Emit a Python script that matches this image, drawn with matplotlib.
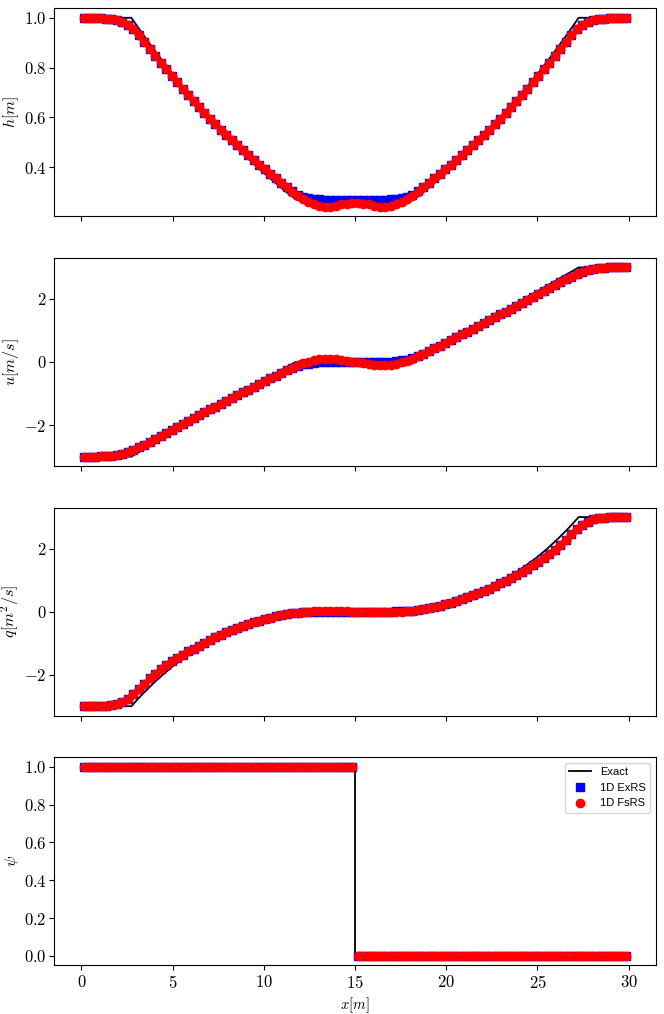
import numpy as np
import matplotlib
matplotlib.use("Agg")
import matplotlib.pyplot as plt

plt.rcParams['font.family'] = 'serif'
plt.rcParams['font.serif'] = ['cmr10', 'DejaVu Serif']
plt.rcParams['mathtext.fontset'] = 'cm'
plt.rcParams['axes.formatter.use_mathtext'] = True
plt.rcParams['axes.unicode_minus'] = True
plt.rcParams['xtick.labelsize'] = 12
plt.rcParams['ytick.labelsize'] = 12
plt.rcParams['ytick.major.pad'] = 2
plt.rcParams['xtick.major.pad'] = 3
plt.rcParams['axes.labelsize'] = 11.5

# cell centres, dx = 0.3 m
x = np.linspace(0.15, 29.85, 100)

# exact solution (two rarefactions)
x_ex = [0.0, 2.74, 3.3, 3.9, 4.5, 5.1, 6.3, 7.5, 8.7, 9.9, 11.1, 11.74,
        18.26, 18.9, 20.1, 21.3, 22.5, 23.7, 24.9, 25.5, 26.1, 26.7, 27.26, 30.0]
h_ex = [1.0, 1.0, 0.941, 0.880, 0.821, 0.764, 0.657, 0.557, 0.466, 0.383, 0.308, 0.2715,
        0.2715, 0.308, 0.383, 0.466, 0.557, 0.657, 0.764, 0.821, 0.880, 0.941, 1.0, 1.0]
q_ex = [-3.0, -3.0, -2.646, -2.299, -1.980, -1.690, -1.190, -0.787, -0.472, -0.234, -0.065, 0.0,
        0.0, 0.065, 0.234, 0.472, 0.787, 1.190, 1.690, 1.980, 2.299, 2.646, 3.0, 3.0]
x_ex_u = [0.0, 2.74, 11.74, 18.26, 27.26, 30.0]
u_ex = [-3.0, -3.0, 0.0, 0.0, 3.0, 3.0]
x_ex_psi = [0.0, 15.0, 15.0, 30.0]
psi_ex = [1.0, 1.0, 0.0, 0.0]

# 1D ExRS
h_exrs = [1.000, 1.000, 0.999, 0.998, 0.997, 0.995, 0.990, 0.982, 0.972, 0.956,
          0.932, 0.904, 0.876, 0.848, 0.820, 0.793, 0.766, 0.740, 0.714, 0.689,
          0.665, 0.641, 0.617, 0.594, 0.572, 0.550, 0.529, 0.508, 0.488, 0.468,
          0.448, 0.429, 0.410, 0.391, 0.373, 0.355, 0.338, 0.320, 0.302, 0.289,
          0.281, 0.276, 0.272, 0.270, 0.268, 0.268, 0.268, 0.268, 0.268, 0.268,
          0.268, 0.268, 0.268, 0.268, 0.268, 0.268, 0.270, 0.272, 0.276, 0.281,
          0.289, 0.302, 0.320, 0.338, 0.355, 0.373, 0.391, 0.410, 0.429, 0.448,
          0.468, 0.488, 0.508, 0.529, 0.550, 0.572, 0.594, 0.617, 0.641, 0.665,
          0.689, 0.714, 0.740, 0.766, 0.793, 0.820, 0.848, 0.876, 0.904, 0.932,
          0.956, 0.972, 0.982, 0.990, 0.995, 0.997, 0.998, 0.999, 1.000, 1.000]
u_exrs = [-3.000, -3.000, -3.000, -2.998, -2.992, -2.979, -2.955, -2.915, -2.860, -2.789,
          -2.705, -2.620, -2.535, -2.447, -2.357, -2.265, -2.170, -2.075, -1.980, -1.885,
          -1.790, -1.695, -1.600, -1.507, -1.417, -1.327, -1.237, -1.147, -1.057, -0.967,
          -0.877, -0.787, -0.697, -0.607, -0.517, -0.430, -0.345, -0.262, -0.182, -0.119,
          -0.078, -0.048, -0.028, -0.015, -0.008, -0.003, 0.000, 0.000, 0.000, 0.000,
          0.000, 0.000, 0.000, 0.000, 0.003, 0.008, 0.015, 0.028, 0.048, 0.078,
          0.119, 0.182, 0.262, 0.345, 0.430, 0.517, 0.607, 0.697, 0.787, 0.877,
          0.967, 1.057, 1.147, 1.237, 1.327, 1.417, 1.507, 1.600, 1.695, 1.790,
          1.885, 1.980, 2.075, 2.170, 2.265, 2.357, 2.447, 2.535, 2.620, 2.705,
          2.789, 2.860, 2.915, 2.955, 2.979, 2.992, 2.998, 3.000, 3.000, 3.000]
q_exrs = [-3.000, -3.000, -2.998, -2.993, -2.985, -2.964, -2.926, -2.855, -2.760, -2.620,
          -2.450, -2.280, -2.120, -1.970, -1.830, -1.700, -1.580, -1.470, -1.360, -1.260,
          -1.170, -1.077, -0.987, -0.898, -0.811, -0.731, -0.656, -0.584, -0.517, -0.453,
          -0.394, -0.339, -0.287, -0.238, -0.194, -0.153, -0.117, -0.084, -0.056, -0.035,
          -0.022, -0.014, -0.008, -0.004, -0.002, -0.001, 0.000, 0.000, 0.000, 0.000,
          0.000, 0.000, 0.000, 0.000, 0.001, 0.002, 0.004, 0.008, 0.014, 0.022,
          0.035, 0.056, 0.084, 0.117, 0.153, 0.194, 0.238, 0.287, 0.339, 0.394,
          0.453, 0.517, 0.584, 0.656, 0.731, 0.811, 0.898, 0.987, 1.077, 1.170,
          1.260, 1.360, 1.470, 1.580, 1.700, 1.830, 1.970, 2.120, 2.280, 2.450,
          2.620, 2.760, 2.855, 2.926, 2.964, 2.985, 2.993, 2.998, 3.000, 3.000]
psi_exrs = [1, 1, 1, 1, 1, 1, 1, 1, 1, 1,
            1, 1, 1, 1, 1, 1, 1, 1, 1, 1,
            1, 1, 1, 1, 1, 1, 1, 1, 1, 1,
            1, 1, 1, 1, 1, 1, 1, 1, 1, 1,
            1, 1, 1, 1, 1, 1, 1, 1, 1, 1,
            0, 0, 0, 0, 0, 0, 0, 0, 0, 0,
            0, 0, 0, 0, 0, 0, 0, 0, 0, 0,
            0, 0, 0, 0, 0, 0, 0, 0, 0, 0,
            0, 0, 0, 0, 0, 0, 0, 0, 0, 0,
            0, 0, 0, 0, 0, 0, 0, 0, 0, 0]

# 1D FsRS
h_fsrs = [1.000, 1.000, 0.999, 0.998, 0.997, 0.995, 0.990, 0.982, 0.972, 0.956,
          0.932, 0.904, 0.876, 0.848, 0.820, 0.793, 0.766, 0.740, 0.714, 0.689,
          0.665, 0.641, 0.617, 0.594, 0.572, 0.550, 0.529, 0.508, 0.488, 0.468,
          0.448, 0.429, 0.410, 0.391, 0.373, 0.355, 0.338, 0.320, 0.301, 0.285,
          0.273, 0.261, 0.251, 0.244, 0.240, 0.241, 0.245, 0.250, 0.253, 0.255,
          0.255, 0.253, 0.250, 0.245, 0.241, 0.240, 0.244, 0.251, 0.261, 0.273,
          0.285, 0.301, 0.320, 0.338, 0.355, 0.373, 0.391, 0.410, 0.429, 0.448,
          0.468, 0.488, 0.508, 0.529, 0.550, 0.572, 0.594, 0.617, 0.641, 0.665,
          0.689, 0.714, 0.740, 0.766, 0.793, 0.820, 0.848, 0.876, 0.904, 0.932,
          0.956, 0.972, 0.982, 0.990, 0.995, 0.997, 0.998, 0.999, 1.000, 1.000]
u_fsrs = [-3.000, -3.000, -3.000, -2.998, -2.992, -2.979, -2.955, -2.915, -2.860, -2.789,
          -2.705, -2.620, -2.535, -2.447, -2.357, -2.265, -2.170, -2.075, -1.980, -1.885,
          -1.790, -1.695, -1.600, -1.507, -1.417, -1.327, -1.237, -1.147, -1.057, -0.967,
          -0.877, -0.787, -0.697, -0.607, -0.517, -0.430, -0.345, -0.262, -0.176, -0.095,
          -0.040, 0.005, 0.052, 0.088, 0.102, 0.100, 0.085, 0.062, 0.038, 0.012,
          -0.012, -0.038, -0.062, -0.085, -0.100, -0.102, -0.088, -0.052, -0.005, 0.040,
          0.095, 0.176, 0.262, 0.345, 0.430, 0.517, 0.607, 0.697, 0.787, 0.877,
          0.967, 1.057, 1.147, 1.237, 1.327, 1.417, 1.507, 1.600, 1.695, 1.790,
          1.885, 1.980, 2.075, 2.170, 2.265, 2.357, 2.447, 2.535, 2.620, 2.705,
          2.789, 2.860, 2.915, 2.955, 2.979, 2.992, 2.998, 3.000, 3.000, 3.000]
q_fsrs = [-3.000, -3.000, -2.998, -2.993, -2.985, -2.964, -2.926, -2.855, -2.760, -2.620,
          -2.450, -2.280, -2.120, -1.970, -1.830, -1.700, -1.580, -1.470, -1.360, -1.260,
          -1.170, -1.077, -0.987, -0.898, -0.811, -0.731, -0.656, -0.584, -0.517, -0.453,
          -0.394, -0.339, -0.287, -0.238, -0.194, -0.153, -0.117, -0.084, -0.054, -0.028,
          -0.011, 0.002, 0.014, 0.022, 0.024, 0.024, 0.021, 0.016, 0.010, 0.003,
          -0.003, -0.010, -0.016, -0.021, -0.024, -0.024, -0.022, -0.014, -0.002, 0.011,
          0.028, 0.054, 0.084, 0.117, 0.153, 0.194, 0.238, 0.287, 0.339, 0.394,
          0.453, 0.517, 0.584, 0.656, 0.731, 0.811, 0.898, 0.987, 1.077, 1.170,
          1.260, 1.360, 1.470, 1.580, 1.700, 1.830, 1.970, 2.120, 2.280, 2.450,
          2.620, 2.760, 2.855, 2.926, 2.964, 2.985, 2.993, 2.998, 3.000, 3.000]
psi_fsrs = list(psi_exrs)

labels = ['Exact', '1D ExRS', '1D FsRS']

fig, axs = plt.subplots(4, 1, sharex=True, figsize=(6.64, 10.14), dpi=100)
fig.subplots_adjust(left=0.0813, right=0.988, top=0.9918, bottom=0.048, hspace=0.2)

panels = [
    (x_ex, h_ex, h_exrs, h_fsrs, r'$h[m]$'),
    (x_ex_u, u_ex, u_exrs, u_fsrs, r'$u[m/s]$'),
    (x_ex, q_ex, q_exrs, q_fsrs, r'$q[m^2/s]$'),
    (x_ex_psi, psi_ex, psi_exrs, psi_fsrs, r'$\psi$'),
]

for ax, (xe, ye, y1, y2, lab) in zip(axs, panels):
    ax.plot(xe, ye, 'k-', lw=1.3, label=labels[0])
    ax.plot(x, y1, 'bs', ms=6, ls='none', label=labels[1])
    ax.plot(x, y2, 'ro', ms=6, ls='none', label=labels[2])
    ax.set_ylabel(lab)
    ax.yaxis.set_label_coords(-0.055, 0.5)

axs[0].set_yticks([0.4, 0.6, 0.8, 1.0])
axs[1].set_yticks([-2, 0, 2])
axs[2].set_yticks([-2, 0, 2])
axs[3].set_yticks([0.0, 0.2, 0.4, 0.6, 0.8, 1.0])
axs[3].set_xticks([0, 5, 10, 15, 20, 25, 30])
axs[3].set_xlabel(r'$x[m]$', fontsize=10.5, labelpad=3)

axs[3].legend(loc='upper right',
              prop={'family': ['Liberation Sans Narrow', 'Liberation Sans', 'DejaVu Sans'], 'size': 8})

plt.savefig('out.png', dpi=100)
